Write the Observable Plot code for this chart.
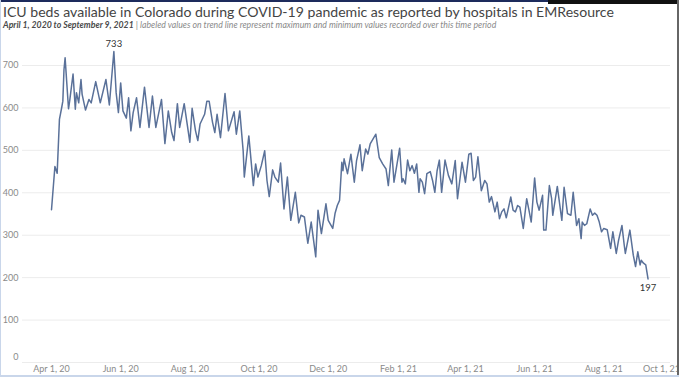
<!DOCTYPE html>
<html><head><meta charset="utf-8">
<script src="https://cdn.jsdelivr.net/npm/d3@7"></script>
<script src="https://cdn.jsdelivr.net/npm/@observablehq/plot@0.6"></script>
<style>
html,body{margin:0;padding:0;background:#fff;}
#wrap{position:relative;width:679px;height:377px;overflow:hidden;background:#fff;font-family:Lato,"Open Sans",sans-serif;}
#title{position:absolute;left:3px;top:3px;white-space:nowrap;color:#444;font-size:16px;line-height:18px;}
#sub{position:absolute;left:3px;top:19px;white-space:nowrap;font-size:9px;font-style:italic;color:#8a8a8a;line-height:11px;}
#sub b{color:#4a4a4a;font-weight:700;}
#chart{position:absolute;left:0;top:34px;}
.topbar{position:absolute;left:0;top:0;width:548px;height:2px;background:#1d2b5c;}
.topbar2{position:absolute;left:548px;top:0;width:131px;height:4px;background:#111;}
.rightbar{position:absolute;left:677px;top:0;width:2px;height:377px;background:#666;}
.leftbar{position:absolute;left:0;top:0;width:1px;height:377px;background:#c9d6ea;}
.bottombar{position:absolute;left:0;top:375px;width:679px;height:2px;background:#c9d6ea;}
</style>
</head><body>
<div id="wrap">
  <div id="title">ICU beds available in Colorado during COVID-19 pandemic as reported by hospitals in EMResource</div>
  <div id="sub"><b>April 1, 2020 to September 9, 2021</b> | labeled values on trend line represent maximum and minimum values recorded over this time period</div>
  <div id="chart"></div>
  <div class="topbar"></div><div class="topbar2"></div>
  <div class="leftbar"></div><div class="rightbar"></div><div class="bottombar"></div>
</div>
<script>
const startDate = "2020-04-01";
// days since April 1, 2020 at each read vertex
const dayOffset = [0,3,5,7,9,10,11,12,15,16,19,21,22,24,26,27,30,33,35,39,43,48,51,55,57,59,61,63,66,68,70,72,75,78,82,86,89,92,97,100,
103,106,108,111,113,117,122,124,127,129,131,135,137,139,142,144,146,149,153,156,161,163,166,169,170,174,178,180,182,185,188,190,192,195,197,200,
202,205,208,211,215,218,220,223,226,229,233,235,238,242,244,248,250,252,254,256,257,258,261,264,267,269,272,274,277,279,281,286,289,292,295,297,
300,302,307,309,310,312,314,316,318,320,322,324,325,327,329,331,334,336,338,340,342,344,347,350,353,356,358,362,365,368,370,372,374,376,379,382,
384,386,388,391,393,395,397,399,401,405,407,409,411,413,416,419,421,423,426,428,430,433,434,436,439,441,442,446,450,452,455,458,460,463,465,467,
468,470,472,475,477,479,481,483,485,487,490,493,495,498,500,503,505,506,510,513,515,517,519,520,522,524,526];
const beds = [360,462,446,573,601,616,690,718,598,616,680,597,636,612,667,632,595,620,612,662,612,667,607,733,636,589,659,593,576,624,546,589,624,554,649,554,628,554,620,516,
593,542,523,610,554,610,519,599,546,523,562,585,616,616,566,542,585,530,634,546,591,538,593,499,437,534,417,468,437,464,499,429,391,454,437,425,
470,362,437,335,401,329,347,343,281,331,249,359,304,374,335,316,351,370,382,472,452,480,445,491,425,476,513,452,503,491,515,538,483,468,456,417,
501,425,505,425,433,421,477,452,464,446,468,401,433,425,398,445,450,429,401,452,477,401,477,441,421,476,386,472,425,491,493,429,437,485,405,429,
421,378,391,355,378,339,355,362,341,390,359,355,370,366,316,386,359,331,435,378,359,394,312,312,417,386,347,415,335,413,351,347,401,323,339,292,
331,323,327,362,347,352,347,331,308,316,313,269,308,257,288,323,277,257,312,253,226,261,230,241,234,230,197];
const yTicks = [0,100,200,300,400,500,600,700];
const xTickDates = ["2020-04-01","2020-06-01","2020-08-01","2020-10-01","2020-12-01","2021-02-01","2021-04-01","2021-06-01","2021-08-01","2021-10-01"];
const xTickLabels = ["Apr 1, 20","Jun 1, 20","Aug 1, 20","Oct 1, 20","Dec 1, 20","Feb 1, 21","Apr 1, 21","Jun 1, 21","Aug 1, 21","Oct 1, 21"];

const start = new Date(startDate);
const data = dayOffset.map((d, i) => ({date: d3.utcDay.offset(start, d), beds: beds[i]}));
const maxPt = data.reduce((a, b) => b.beds > a.beds ? b : a);
const minPt = data.reduce((a, b) => b.beds < a.beds ? b : a);
const tickD = xTickDates.map(s => new Date(s));
const labelOf = new Map(tickD.map((d, i) => [+d, xTickLabels[i]]));

const chart = Plot.plot({
  width: 679, height: 343,
  marginLeft: 22, marginRight: 9, marginTop: 0, marginBottom: 15,
  style: {fontFamily: "Lato, 'Open Sans', sans-serif", fontSize: "9px", color: "#8a8a8a", background: "transparent"},
  x: {type: "utc", domain: [new Date("2020-04-01"), new Date("2021-08-01")], range: [51, 603.3]},
  y: {domain: [0, 700], range: [328, 31]},
  marks: [
    Plot.gridY(yTicks, {stroke: "#ececec", strokeOpacity: 1}),
    Plot.axisY(yTicks.filter(v => v > 0), {tickSize: 0, tickPadding: 4, fill: "#8a8a8a", label: null}),
    Plot.axisY([0], {tickSize: 0, tickPadding: 4, fill: "#8a8a8a", dy: -5, label: null}),
    Plot.axisX(tickD.slice(0, -1), {tickSize: 0, tickPadding: 3, fill: "#8a8a8a", label: null, tickFormat: d => labelOf.get(+d)}),
    Plot.axisX(tickD.slice(-1), {tickSize: 0, tickPadding: 3, fill: "#8a8a8a", label: null, textAnchor: "end", dx: 7, tickFormat: d => labelOf.get(+d)}),
    Plot.line(data, {x: "date", y: "beds", stroke: "#5a7199", strokeWidth: 1.5, strokeLinejoin: "round"}),
    Plot.text([maxPt], {x: "date", y: "beds", text: d => String(d.beds), dy: -8, fill: "#333", fontSize: 9.5}),
    Plot.text([minPt], {x: "date", y: "beds", text: d => String(d.beds), dy: 9, fill: "#333", fontSize: 9.5})
  ]
});
document.getElementById("chart").appendChild(chart);

function fit(id, target) {
  const el = document.getElementById(id);
  const fs = parseFloat(getComputedStyle(el).fontSize);
  const w = el.getBoundingClientRect().width;
  el.style.fontSize = (fs * target / w) + "px";
}
fit("title", 611);
fit("sub", 494);
</script>
</body></html>
